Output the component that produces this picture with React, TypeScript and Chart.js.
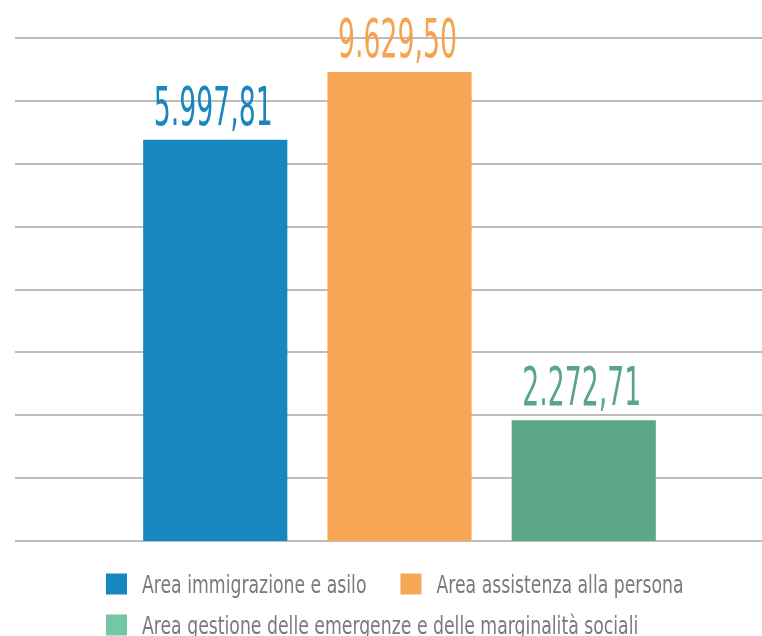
import React, { useEffect, useRef } from 'react';
import { Chart, registerables } from 'chart.js';

Chart.register(...registerables);

// Series (one bar each)
const seriesNames = [
  'Area immigrazione e asilo',
  'Area assistenza alla persona',
  'Area gestione delle emergenze e delle marginalità sociali',
];
// Value labels printed above the bars
const valueLabels = ['5.997,81', '9.629,50', '2.272,71'];
// Bar heights as drawn in the picture (in grid steps of the hidden axis)
const barHeights = [6.38, 7.46, 1.92];
// Horizontal grid lines (hidden axis ticks)
const gridTicks = [0, 1, 2, 3, 4, 5, 6, 7, 8];

const barColors = ['#1787c0', '#f7a656', '#5ba787'];
const labelColors = ['#1a86bf', '#f6a24f', '#5aa584'];
const legendColors = ['#1787c0', '#f7a656', '#72c7a5'];

const NARROW = "'Liberation Sans Narrow', 'DejaVu Sans Condensed', sans-serif";

const gridPlugin = {
  id: 'customGrid',
  beforeDatasetsDraw(chart: any) {
    const { ctx } = chart;
    const y = chart.scales.y;
    ctx.save();
    ctx.strokeStyle = '#bdbdbd';
    ctx.lineWidth = 2;
    gridTicks.forEach((t) => {
      const py = Math.round(y.getPixelForValue(t));
      ctx.beginPath();
      ctx.moveTo(15, py);
      ctx.lineTo(chart.width, py);
      ctx.stroke();
    });
    ctx.restore();
  },
};

const valueLabelPlugin = {
  id: 'valueLabels',
  afterDatasetsDraw(chart: any) {
    const { ctx } = chart;
    chart.data.datasets.forEach((ds: any, i: number) => {
      const meta = chart.getDatasetMeta(i);
      const bar = meta.data[0];
      if (!bar) return;
      ctx.save();
      ctx.translate(bar.x - 2, bar.y - 15);
      ctx.scale(0.55, 1);
      ctx.font = `54px ${NARROW}`;
      ctx.fillStyle = labelColors[i];
      ctx.textAlign = 'center';
      ctx.textBaseline = 'alphabetic';
      ctx.fillText(valueLabels[i], 0, 0);
      ctx.restore();
    });
  },
};

const legendPlugin = {
  id: 'customLegend',
  afterDraw(chart: any) {
    const { ctx } = chart;
    const startX = 106;
    const box = 21;
    const textOffset = 36;
    const gap = 34;
    const sx = 0.8;
    const rowCenters = [584, 625];
    ctx.save();
    ctx.font = `24px ${NARROW}`;
    let x = startX;
    let row = 0;
    seriesNames.forEach((name, i) => {
      const tw = ctx.measureText(name).width * sx;
      const w = textOffset + tw;
      if (i > 0 && x + w > chart.width) {
        row += 1;
        x = startX;
      }
      const cy = rowCenters[Math.min(row, rowCenters.length - 1)];
      ctx.fillStyle = legendColors[i];
      ctx.fillRect(x, cy - box / 2, box, box);
      ctx.save();
      ctx.translate(x + textOffset, cy + 9);
      ctx.scale(sx, 1);
      ctx.fillStyle = '#7a7a7a';
      ctx.textAlign = 'left';
      ctx.textBaseline = 'alphabetic';
      ctx.fillText(name, 0, 0);
      ctx.restore();
      x += w + gap;
    });
    ctx.restore();
  },
};

export default function App() {
  const canvasRef = useRef<HTMLCanvasElement | null>(null);

  useEffect(() => {
    if (!canvasRef.current) return;
    const chart = new Chart(canvasRef.current, {
      type: 'bar',
      data: {
        labels: [''],
        datasets: seriesNames.map((name, i) => ({
          label: name,
          data: [barHeights[i]],
          backgroundColor: barColors[i],
          borderWidth: 0,
          categoryPercentage: 0.7624,
          barPercentage: 0.7826,
        })),
      },
      options: {
        animation: false,
        responsive: true,
        maintainAspectRatio: false,
        layout: { padding: { top: 38, left: 37, right: 0, bottom: 95 } },
        plugins: {
          legend: { display: false },
          tooltip: { enabled: false },
          title: { display: false },
        },
        scales: {
          x: { display: false },
          y: { display: false, min: 0, max: 8, ticks: { stepSize: 1 } },
        },
      },
      plugins: [gridPlugin, valueLabelPlugin, legendPlugin],
    });
    return () => chart.destroy();
  }, []);

  return (
    <div style={{ position: 'absolute', left: 0, top: 0, width: 762, height: 636, background: '#ffffff' }}>
      <canvas ref={canvasRef} />
    </div>
  );
}
